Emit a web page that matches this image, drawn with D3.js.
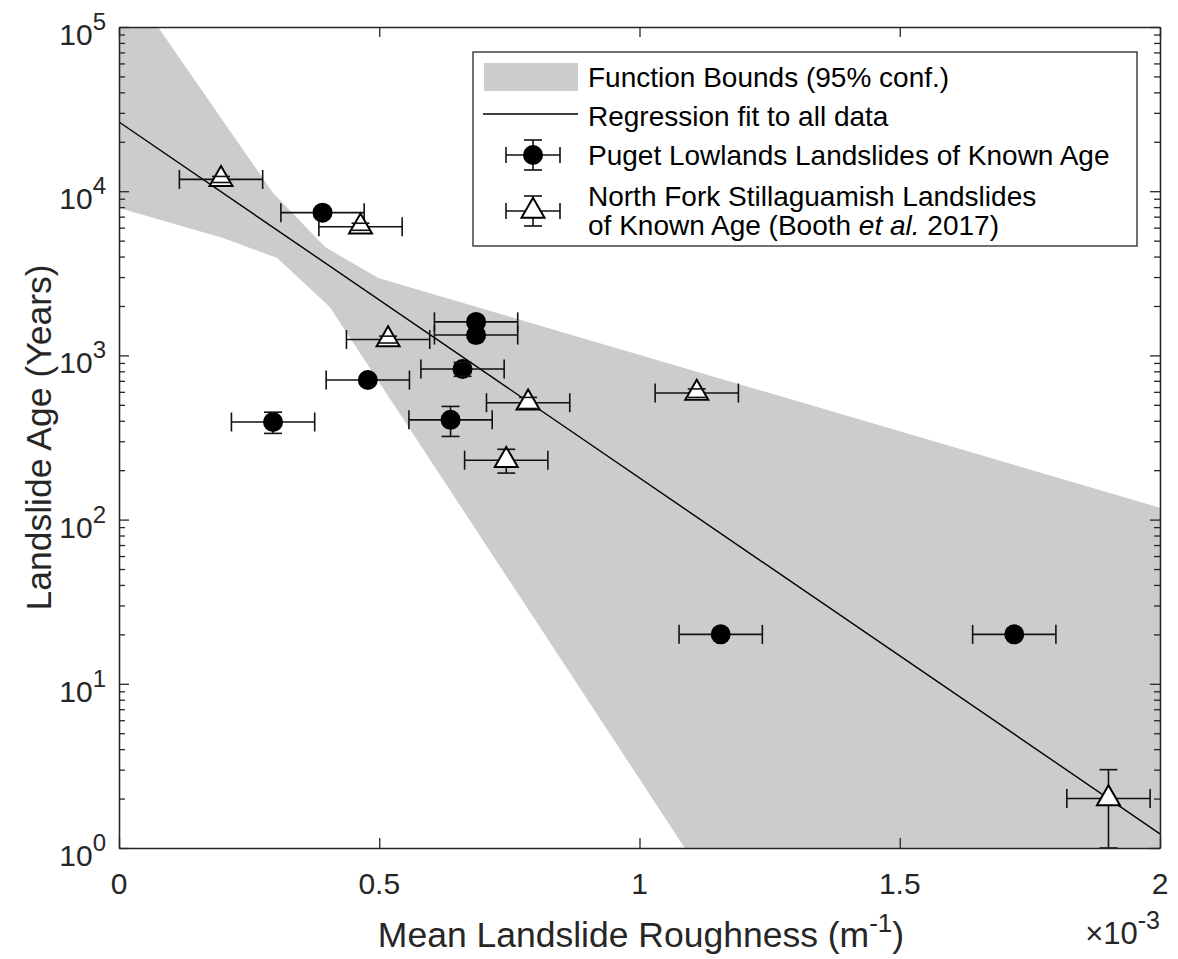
<!DOCTYPE html>
<html>
<head>
<meta charset="utf-8">
<script src="https://cdn.jsdelivr.net/npm/d3@7"></script>
<style>
  html, body { margin: 0; padding: 0; background: #fff; }
  svg { display: block; font-family: "Liberation Sans", Arial, Helvetica, sans-serif; }
</style>
</head>
<body>
<svg id="chart" width="1178" height="959"></svg>
<script>
// Roughness in units of 1e-3 m^-1, ages in years
const xTickValues = [0, 0.5, 1, 1.5, 2];
const xTickLabels = ["0", "0.5", "1", "1.5", "2"];
const yTickExponents = [0, 1, 2, 3, 4, 5];

// Puget Lowlands landslides of known age
const pugetRough    = [0.296, 0.391, 0.478, 0.686, 0.686, 0.660, 0.637, 1.156, 1.720];
const pugetRoughErr = [0.08, 0.08, 0.08, 0.08, 0.08, 0.08, 0.08, 0.08, 0.08];
const pugetAge      = [393, 7400, 708, 1600, 1330, 826, 405, 20, 20];
const pugetAgeErr   = [58, 0, 0, 0, 0, 80, 84, 0, 0];

// North Fork Stillaguamish landslides (Booth et al. 2017)
const nfRough    = [0.196, 0.464, 0.517, 0.786, 0.744, 1.110, 1.901];
const nfRoughErr = [0.08, 0.08, 0.08, 0.08, 0.08, 0.08, 0.08];
const nfAge      = [11800, 6080, 1250, 515, 230, 590, 2];
const nfAgeErr   = [500, 300, 60, 40, 38, 35, 1];

// Regression fit (exponential, straight on the log axis)
const regRough = [0, 2];
const regAge   = [26400, 1.22];

// 95% confidence bounds of the fit
const upperRough = [0, 0.296, 0.396, 0.498, 2.0];
const upperAge   = [220000, 9750, 4570, 2960, 118];
const lowerRough = [0, 0.2, 0.304, 0.405, 1.087, 2.0];
const lowerAge   = [7900, 5190, 3920, 1970, 1.0, 0.00004];

const ink = "#262626";
const svg = d3.select("#chart");
const m = { left: 119, top: 27, right: 1160, bottom: 848 };

const x = d3.scaleLinear().domain([0, 2]).range([m.left, m.right]);
const y = d3.scaleLog().domain([1, 1e5]).range([m.bottom, m.top]);

const defs = svg.append("defs");
defs.append("clipPath").attr("id", "plotClip")
  .append("rect")
  .attr("x", m.left).attr("y", m.top)
  .attr("width", m.right - m.left).attr("height", m.bottom - m.top);

const plot = svg.append("g").attr("clip-path", "url(#plotClip)");

// Confidence band
const bandPts = upperRough.map((r, i) => [r, upperAge[i]])
  .concat(lowerRough.map((r, i) => [r, lowerAge[i]]).reverse());
plot.append("path")
  .attr("d", d3.line().x(d => x(d[0])).y(d => y(d[1]))(bandPts) + "Z")
  .attr("fill", "#cccccc").attr("stroke", "none");

// Regression line
plot.append("path")
  .attr("d", d3.line().x((d, i) => x(regRough[i])).y((d, i) => y(regAge[i]))(regRough))
  .attr("fill", "none").attr("stroke", "#000").attr("stroke-width", 1.4);

// Error bars and markers
const capX = 9.5, capY = 9;
function drawSeries(rough, roughErr, age, ageErr, marker) {
  const g = plot.append("g");
  rough.forEach((r, i) => {
    const cx = x(r), cy = y(age[i]);
    const x0 = x(r - roughErr[i]), x1 = x(r + roughErr[i]);
    const bars = g.append("g").attr("stroke", "#111").attr("stroke-width", 1.6).attr("fill", "none");
    bars.append("line").attr("x1", x0).attr("x2", x1).attr("y1", cy).attr("y2", cy);
    bars.append("line").attr("x1", x0).attr("x2", x0).attr("y1", cy - capX).attr("y2", cy + capX);
    bars.append("line").attr("x1", x1).attr("x2", x1).attr("y1", cy - capX).attr("y2", cy + capX);
    let yTop = null, yBot = null;
    if (ageErr[i] > 0) {
      yTop = y(age[i] + ageErr[i]);
      yBot = y(Math.max(age[i] - ageErr[i], 1e-6));
      bars.append("line").attr("x1", cx).attr("x2", cx).attr("y1", yTop).attr("y2", yBot);
    }
    marker(g, cx, cy);
    if (ageErr[i] > 0) {
      const caps = g.append("g").attr("stroke", "#111").attr("stroke-width", 1.6);
      caps.append("line").attr("x1", cx - capY).attr("x2", cx + capY).attr("y1", yTop).attr("y2", yTop);
      caps.append("line").attr("x1", cx - capY).attr("x2", cx + capY).attr("y1", yBot).attr("y2", yBot);
    }
  });
}
function circleMarker(g, cx, cy) {
  g.append("circle").attr("cx", cx).attr("cy", cy).attr("r", 10).attr("fill", "#000");
}
function triMarker(g, cx, cy) {
  g.append("path")
    .attr("d", `M${cx},${cy - 13.3}L${cx + 11.5},${cy + 6.7}L${cx - 11.5},${cy + 6.7}Z`)
    .attr("fill", "#fff").attr("stroke", "#000").attr("stroke-width", 2);
}
drawSeries(pugetRough, pugetRoughErr, pugetAge, pugetAgeErr, circleMarker);
drawSeries(nfRough, nfRoughErr, nfAge, nfAgeErr, triMarker);

// Axes (ticks point inward on all four sides)
const majorY = yTickExponents.map(e => Math.pow(10, e));
const minorY = [];
for (let e = 0; e < 5; e++) for (let k = 2; k <= 9; k++) minorY.push(k * Math.pow(10, e));

function styleAxis(g) {
  g.selectAll("path.domain").attr("stroke", ink).attr("stroke-width", 1.3);
  g.selectAll(".tick line").attr("stroke", ink).attr("stroke-width", 1.3);
  g.selectAll(".tick text").remove();
}
svg.append("g").attr("transform", `translate(0,${m.bottom})`)
  .call(d3.axisBottom(x).tickValues(xTickValues).tickSizeInner(-10).tickSizeOuter(0).tickFormat(""))
  .call(styleAxis);
svg.append("g").attr("transform", `translate(0,${m.top})`)
  .call(d3.axisTop(x).tickValues(xTickValues).tickSizeInner(-10).tickSizeOuter(0).tickFormat(""))
  .call(styleAxis);
svg.append("g").attr("transform", `translate(${m.left},0)`)
  .call(d3.axisLeft(y).tickValues(majorY).tickSizeInner(-10).tickSizeOuter(0).tickFormat(""))
  .call(styleAxis);
svg.append("g").attr("transform", `translate(${m.left},0)`)
  .call(d3.axisLeft(y).tickValues(minorY).tickSizeInner(-6).tickSizeOuter(0).tickFormat(""))
  .call(styleAxis);
svg.append("g").attr("transform", `translate(${m.right},0)`)
  .call(d3.axisRight(y).tickValues(majorY).tickSizeInner(-10).tickSizeOuter(0).tickFormat(""))
  .call(styleAxis);
svg.append("g").attr("transform", `translate(${m.right},0)`)
  .call(d3.axisRight(y).tickValues(minorY).tickSizeInner(-6).tickSizeOuter(0).tickFormat(""))
  .call(styleAxis);

// Tick labels
svg.append("g").selectAll("text").data(xTickValues).join("text")
  .attr("x", d => x(d)).attr("y", 894)
  .attr("text-anchor", "middle").attr("font-size", 30).attr("fill", ink)
  .text((d, i) => xTickLabels[i]);

const yl = svg.append("g").selectAll("text").data(yTickExponents).join("text")
  .attr("x", 106).attr("y", d => y(Math.pow(10, d)) + 18)
  .attr("text-anchor", "end").attr("font-size", 30).attr("fill", ink);
yl.append("tspan").text("10");
yl.append("tspan").attr("font-size", 24).attr("dy", -15).text(d => d);

// Axis titles
const xt = svg.append("text").attr("x", 641).attr("y", 947)
  .attr("text-anchor", "middle").attr("font-size", 35.5).attr("fill", ink);
xt.append("tspan").text("Mean Landslide Roughness (m");
xt.append("tspan").attr("font-size", 26).attr("dy", -15).text("-1");
xt.append("tspan").attr("dy", 15).text(")");

const mult = svg.append("text").attr("x", 1160).attr("y", 944)
  .attr("text-anchor", "end").attr("font-size", 31).attr("fill", ink);
mult.append("tspan").text("\u00d710");
mult.append("tspan").attr("font-size", 25).attr("dy", -15).text("-3");

svg.append("text")
  .attr("transform", `translate(51,${(m.top + m.bottom) / 2}) rotate(-90)`)
  .attr("text-anchor", "middle").attr("font-size", 35.5).attr("fill", ink)
  .text("Landslide Age (Years)");

// Legend
const lg = svg.append("g");
lg.append("rect").attr("x", 473).attr("y", 52).attr("width", 664).attr("height", 194)
  .attr("fill", "#fff").attr("stroke", ink).attr("stroke-width", 1.3);
lg.append("rect").attr("x", 484).attr("y", 63).attr("width", 94).attr("height", 28).attr("fill", "#cccccc");
lg.append("line").attr("x1", 483).attr("x2", 578).attr("y1", 114).attr("y2", 114)
  .attr("stroke", "#000").attr("stroke-width", 1.4);

function legendGlyph(cy, marker) {
  const g = lg.append("g");
  const b = g.append("g").attr("stroke", "#111").attr("stroke-width", 1.6);
  b.append("line").attr("x1", 506).attr("x2", 560).attr("y1", cy).attr("y2", cy);
  b.append("line").attr("x1", 506).attr("x2", 506).attr("y1", cy - 8).attr("y2", cy + 8);
  b.append("line").attr("x1", 560).attr("x2", 560).attr("y1", cy - 8).attr("y2", cy + 8);
  b.append("line").attr("x1", 533).attr("x2", 533).attr("y1", cy - 15).attr("y2", cy + 15);
  b.append("line").attr("x1", 524).attr("x2", 542).attr("y1", cy - 15).attr("y2", cy - 15);
  b.append("line").attr("x1", 524).attr("x2", 542).attr("y1", cy + 15).attr("y2", cy + 15);
  marker(g, 533, cy);
}
legendGlyph(155, circleMarker);
legendGlyph(211, triMarker);

const legendRows = [
  ["Function Bounds (95% conf.)", 87],
  ["Regression fit to all data", 126],
  ["Puget Lowlands Landslides of Known Age", 165],
  ["North Fork Stillaguamish Landslides", 206],
];
lg.selectAll("text.row").data(legendRows).join("text").attr("class", "row")
  .attr("x", 588).attr("y", d => d[1]).attr("font-size", 28)
  .attr("fill", "#000").text(d => d[0]);
const last = lg.append("text").attr("x", 588).attr("y", 235).attr("font-size", 28)
  .attr("fill", "#000");
last.append("tspan").text("of Known Age (Booth  ");
last.append("tspan").attr("font-style", "italic").text("et al.");
last.append("tspan").text(" 2017)");
</script>
</body>
</html>
